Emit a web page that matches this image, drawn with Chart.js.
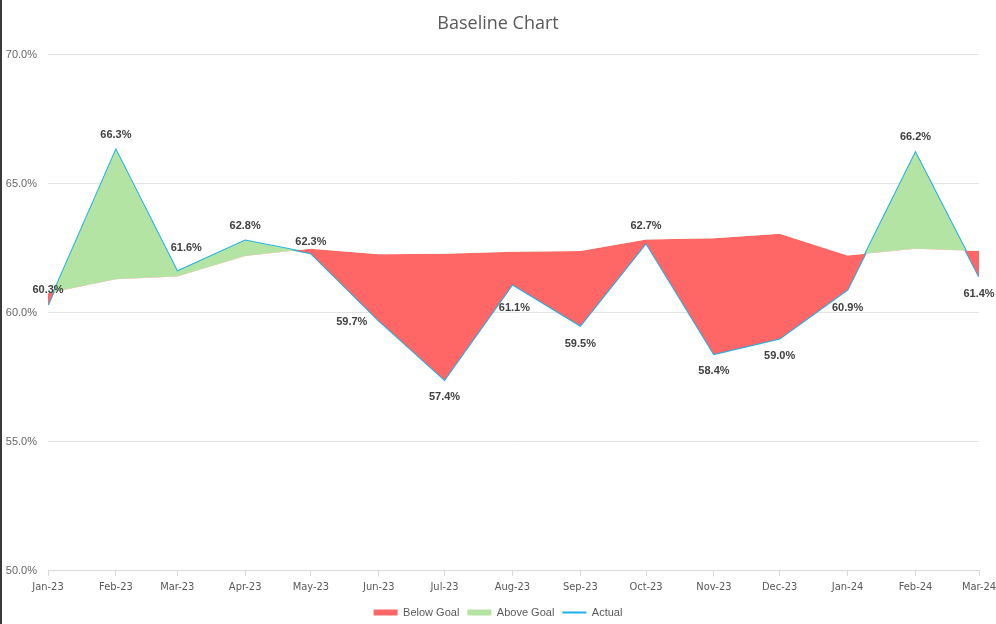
<!DOCTYPE html>
<html>
<head>
<meta charset="utf-8">
<title>Baseline Chart</title>
<script src="https://cdn.jsdelivr.net/npm/chart.js@4.4.1/dist/chart.umd.min.js"></script>
<style>
  html, body { margin: 0; padding: 0; background: #fff; }
  #wrap { position: relative; width: 996px; height: 624px; }
  #edge { position: absolute; left: 0; top: 0; width: 2px; height: 624px; background: #3a3a3a; }
</style>
</head>
<body>
<div id="wrap">
  <canvas id="myChart" width="996" height="624"></canvas>
  <div id="edge"></div>
</div>
<script>
// valores (percentuais)
var months = ["Jan-23", "Feb-23", "Mar-23", "Apr-23", "May-23", "Jun-23", "Jul-23", "Aug-23",
              "Sep-23", "Oct-23", "Nov-23", "Dec-23", "Jan-24", "Feb-24", "Mar-24"];
var actual = [60.3, 66.3, 61.6, 62.8, 62.3, 59.7, 57.4, 61.1, 59.5, 62.7, 58.4, 59.0, 60.9, 66.2, 61.4];
var goal = [60.75, 61.3, 61.4, 62.2, 62.48, 62.26, 62.28, 62.36, 62.39, 62.84, 62.88, 63.06, 62.22, 62.48, 62.39];
var yTicks = [50, 55, 60, 65, 70];

// deslocamento dos rótulos de dados (px), só estilo
var labelOffsets = [[0, -15], [0, -15], [9, -23], [0, -14], [0, -11], [-27, 2], [0, 17], [2, 24],
                    [0, 18], [0, -17], [0, 17], [0, 17], [0, 18], [0, -16], [0, 17]];

var RED = "#FF6666";
var GREEN = "#B4E4A3";
var BLUE = "#1DB0E8";

// eixo de datas: dias desde o primeiro mês
var monthNames = ["Jan", "Feb", "Mar", "Apr", "May", "Jun", "Jul", "Aug", "Sep", "Oct", "Nov", "Dec"];
function toDay(label) {
  var p = label.split("-");
  return Date.UTC(2000 + parseInt(p[1], 10), monthNames.indexOf(p[0]), 1);
}
var t0 = toDay(months[0]);
var xDays = months.map(function (m) { return Math.round((toDay(m) - t0) / 86400000); });

function points(values) {
  return values.map(function (v, i) { return { x: xDays[i], y: v }; });
}

var narrow = "'Liberation Sans Narrow', 'DejaVu Sans Condensed', sans-serif";

// rótulos de dados da série Actual
var dataLabels = {
  id: "dataLabels",
  afterDatasetsDraw: function (chart) {
    var meta = chart.getDatasetMeta(3);
    var ctx = chart.ctx;
    ctx.save();
    ctx.font = "bold 11px 'Liberation Sans', Arial, sans-serif";
    ctx.fillStyle = "#404040";
    ctx.textAlign = "center";
    ctx.textBaseline = "middle";
    meta.data.forEach(function (pt, i) {
      var off = labelOffsets[i];
      ctx.fillText(actual[i].toFixed(1) + "%", pt.x + off[0], pt.y + off[1]);
    });
    ctx.restore();
  }
};

var ctx = document.getElementById("myChart");

var myChart = new Chart(ctx, {
  type: "line",
  data: {
    datasets: [
      {
        label: "Goal",
        data: points(goal),
        borderWidth: 0,
        pointRadius: 0,
        fill: false,
      },
      {
        label: "Below Goal",
        data: points(actual),
        borderWidth: 0,
        pointRadius: 0,
        backgroundColor: RED,
        borderColor: RED,
        fill: { target: 0, above: "rgba(0,0,0,0)", below: RED },
      },
      {
        label: "Above Goal",
        data: points(actual),
        borderWidth: 0,
        pointRadius: 0,
        backgroundColor: GREEN,
        borderColor: GREEN,
        fill: { target: 0, above: GREEN, below: "rgba(0,0,0,0)" },
      },
      {
        label: "Actual",
        data: points(actual),
        borderColor: BLUE,
        backgroundColor: BLUE,
        borderWidth: 2,
        pointRadius: 0,
        fill: false,
      },
    ],
  },
  options: {
    responsive: false,
    animation: false,
    layout: { padding: { left: 0, right: 0, top: 0, bottom: -4 } },
    plugins: {
      title: {
        display: true,
        text: "Baseline Chart",
        color: "#595959",
        font: { family: "'Open Sans', sans-serif", size: 18, weight: "normal" },
        padding: { top: 13, bottom: 20 },
      },
      legend: {
        position: "bottom",
        labels: {
          usePointStyle: true,
          boxHeight: 6,
          pointStyleWidth: 24,
          padding: 8,
          color: "#595959",
          font: { family: "'Liberation Sans', Arial, sans-serif", size: 11 },
          filter: function (item) { return item.text !== "Goal"; },
          generateLabels: function (chart) {
            return chart.data.datasets.map(function (ds, i) {
              var isLine = ds.label === "Actual";
              return {
                text: ds.label,
                fillStyle: ds.backgroundColor,
                strokeStyle: ds.borderColor,
                lineWidth: isLine ? 2 : 0,
                pointStyle: isLine ? "line" : "rect",
                fontColor: "#595959",
                datasetIndex: i,
                hidden: false,
              };
            });
          },
        },
      },
      tooltip: { enabled: false },
    },
    scales: {
      x: {
        type: "linear",
        min: xDays[0],
        max: xDays[xDays.length - 1],
        afterBuildTicks: function (scale) {
          scale.ticks = xDays.map(function (d) { return { value: d }; });
        },
        afterFit: function (scale) { scale.paddingRight = 17; },
        ticks: {
          autoSkip: false,
          maxRotation: 0,
          padding: 5,
          color: "#595959",
          font: { family: narrow, size: 11 },
          callback: function (v, i) { return months[i]; },
        },
        grid: {
          drawOnChartArea: false,
          drawTicks: true,
          tickLength: 5,
          color: "#d9d9d9",
        },
        border: { color: "#d9d9d9" },
      },
      y: {
        min: yTicks[0],
        max: yTicks[yTicks.length - 1],
        afterBuildTicks: function (scale) {
          scale.ticks = yTicks.map(function (v) { return { value: v }; });
        },
        afterFit: function (scale) { scale.width = 48; },
        ticks: {
          padding: 11,
          color: "#666666",
          font: { family: "'Liberation Sans', Arial, sans-serif", size: 11 },
          callback: function (v) { return v.toFixed(1) + "%"; },
        },
        grid: { color: "#e3e3e3", drawTicks: false },
        border: { display: false },
      },
    },
  },
  plugins: [dataLabels],
});
</script>
</body>
</html>
